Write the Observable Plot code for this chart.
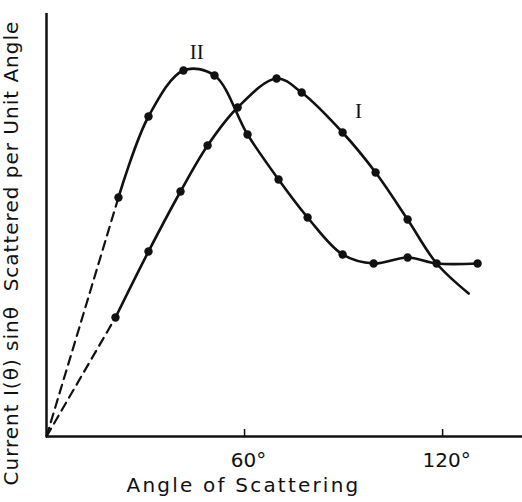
<!DOCTYPE html>
<html>
<head>
<meta charset="utf-8">
<script src="https://cdn.jsdelivr.net/npm/d3@7"></script>
<script src="https://cdn.jsdelivr.net/npm/@observablehq/plot@0.6"></script>
<style>
  html, body { margin: 0; padding: 0; background: #fff; }
</style>
</head>
<body>
<div id="chart"></div>
<script>
// ---- data (angle in degrees, current in arbitrary units) ----
const curveI_theta = [20.9, 30.9, 40.6, 48.8, 57.9, 69.7, 77.3, 89.7, 99.7, 109.4];
const curveI_value = [29.75, 46.25, 61.25, 72.75, 82.25, 89.5, 86.0, 76.0, 66.0, 54.25];
// unmarked continuation of curve I
const curveI_tail_theta = [118.2, 127.9];
const curveI_tail_value = [43.25, 35.75];

const curveII_theta = [21.8, 30.9, 41.5, 50.9, 60.9, 70.3, 79.1, 89.7, 99.1, 109.4, 118.2, 130.6];
const curveII_value = [59.75, 80.0, 91.5, 90.25, 75.5, 64.25, 54.75, 45.5, 43.25, 44.75, 43.25, 43.25];

// extrapolation to the origin (dashed)
const origin_theta = 0;
const origin_value = 0;

const tickValues = [60, 120];
const curveNames = ["I", "II"];
const curveLabelTheta = [94.5, 45.5];
const curveLabelValue = [81.25, 96.0];

const xLabel = "Angle of Scattering";
const yLabel = "Current I(\u03B8) sin\u03B8  Scattered per Unit Angle";

// ---- build tables ----
const pts = (t, v) => t.map((d, i) => ({theta: d, value: v[i]}));
const I_marked = pts(curveI_theta, curveI_value);
const I_line = I_marked.concat(pts(curveI_tail_theta, curveI_tail_value));
const II_marked = pts(curveII_theta, curveII_value);
const originPt = {theta: origin_theta, value: origin_value};
const I_dash = [originPt, I_marked[0]];
const II_dash = [originPt, II_marked[0]];
const labels = curveNames.map((n, i) => ({name: n, theta: curveLabelTheta[i], value: curveLabelValue[i]}));

const ink = "#111";
const chart = Plot.plot({
  width: 522,
  height: 502,
  marginLeft: 46,
  marginRight: 0,
  marginTop: 13,
  marginBottom: 66,
  style: {fontFamily: "'DejaVu Sans', sans-serif", background: "#fff", color: ink},
  x: {domain: [0, 144.2]},
  y: {domain: [0, 105.75], axis: null},
  marks: [
    Plot.ruleY([0], {stroke: ink, strokeWidth: 2.5}),
    Plot.ruleX([0], {stroke: ink, strokeWidth: 2.5}),
    // tick marks pointing up into the plot
    Plot.axisX(tickValues, {tickSize: -7, tickFormat: () => "", stroke: ink, strokeWidth: 1.5, label: null}),
    // tick labels (numerals centred on the tick, degree sign to the right)
    Plot.axisX(tickValues, {tickSize: 0, tickPadding: 16, dx: 4, tickFormat: d => d + "\u00B0", fontSize: 20, label: null, color: ink}),
    Plot.line(I_dash, {x: "theta", y: "value", stroke: ink, strokeWidth: 2.2, strokeDasharray: "9,6"}),
    Plot.line(II_dash, {x: "theta", y: "value", stroke: ink, strokeWidth: 2.2, strokeDasharray: "9,6"}),
    Plot.line(I_line, {x: "theta", y: "value", stroke: ink, strokeWidth: 2.6, curve: "catmull-rom"}),
    Plot.line(II_marked, {x: "theta", y: "value", stroke: ink, strokeWidth: 2.6, curve: "catmull-rom"}),
    Plot.dot(I_marked, {x: "theta", y: "value", r: 4.2, fill: ink}),
    Plot.dot(II_marked, {x: "theta", y: "value", r: 4.2, fill: ink}),
    Plot.text(labels, {x: "theta", y: "value", text: "name", fontSize: 21, fontFamily: "'Liberation Serif', serif", fill: ink}),
    Plot.text([xLabel], {frameAnchor: "bottom", dx: -41, dy: 55, fontSize: 20, fill: ink}),
    Plot.text([yLabel], {frameAnchor: "bottom-left", rotate: -90, textAnchor: "start", dx: -29, dy: 49, fontSize: 20, fill: ink})
  ]
});
// widen lettering to match the hand-lettered reference
chart.querySelectorAll("text").forEach(t => {
  if (t.textContent === xLabel) t.setAttribute("letter-spacing", "2.2");
  if (t.textContent === yLabel) t.setAttribute("letter-spacing", "1");
});
document.getElementById("chart").appendChild(chart);
</script>
</body>
</html>
